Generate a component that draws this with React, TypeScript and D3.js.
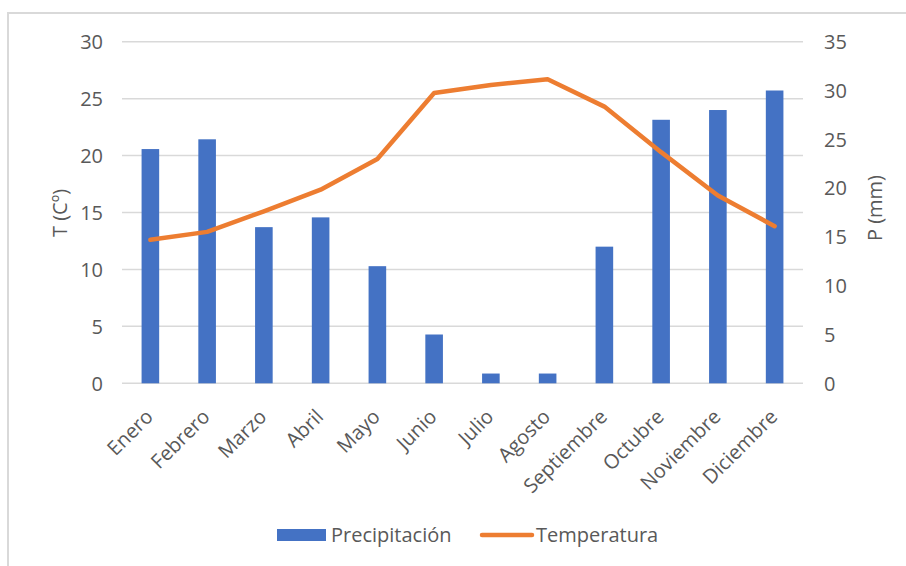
import React from "react";
import * as d3 from "d3";

const months = ["Enero","Febrero","Marzo","Abril","Mayo","Junio","Julio","Agosto","Septiembre","Octubre","Noviembre","Diciembre"];
const precipitation = [24, 25, 16, 17, 12, 5, 1, 1, 14, 27, 28, 30];
const temperature = [12.6, 13.3, 15.1, 17.0, 19.7, 25.5, 26.2, 26.7, 24.3, 20.3, 16.5, 13.8];
const leftTicks = [0, 5, 10, 15, 20, 25, 30];
const rightTicks = [0, 5, 10, 15, 20, 25, 30, 35];

const W = 906, H = 566;
const plotL = 122, plotR = 803, plotT = 41.7, plotB = 383.3;
const FONT = "'Open Sans', 'Noto Sans', sans-serif";
const TXT = "#595959";

export default function App() {
  const x = d3.scaleBand<string>().domain(months).range([plotL, plotR]).paddingInner(0.69).paddingOuter(0.345);
  const band = d3.scaleBand<string>().domain(months).range([plotL, plotR]);
  const yL = d3.scaleLinear().domain([0, 30]).range([plotB, plotT]);
  const yR = d3.scaleLinear().domain([0, 35]).range([plotB, plotT]);
  const line = d3.line<number>()
    .x((_, i) => (band(months[i]) as number) + band.bandwidth() / 2)
    .y((d) => yL(d));

  return (
    <svg width={W} height={H} style={{ position: "absolute", left: 0, top: 0, background: "#fff" }} fontFamily={FONT}>
      <path d={`M8,${H} L8,13 L${W},13`} fill="none" stroke="#d9d9d9" strokeWidth={2} />
      {leftTicks.map((t) => (
        <line key={"g" + t} x1={plotL} x2={plotR} y1={yL(t)} y2={yL(t)} stroke="#d9d9d9" strokeWidth={1.5} />
      ))}
      {leftTicks.map((t) => (
        <text key={"l" + t} x={103} y={yL(t)} dy="0.36em" textAnchor="end" fontSize={20} fill={TXT}>{t}</text>
      ))}
      {rightTicks.map((t) => (
        <text key={"r" + t} x={824} y={yR(t)} dy="0.36em" textAnchor="start" fontSize={20} fill={TXT}>{t}</text>
      ))}
      <text transform={`translate(67,213) rotate(-90)`} textAnchor="middle" fontSize={20} fill={TXT}>T (Cº)</text>
      <text transform={`translate(882,208) rotate(-90)`} textAnchor="middle" fontSize={20} fill={TXT}>P (mm)</text>
      {months.map((m, i) => (
        <rect key={m} x={x(m)} y={yR(precipitation[i])} width={x.bandwidth()} height={plotB - yR(precipitation[i])} fill="#4472c4" />
      ))}
      <path d={line(temperature) || ""} fill="none" stroke="#ed7d31" strokeWidth={4.5} strokeLinejoin="round" strokeLinecap="round" />
      {months.map((m) => {
        const cx = (band(m) as number) + band.bandwidth() / 2;
        return (
          <text key={"c" + m} transform={`translate(${cx + 4},${418}) rotate(-45)`} textAnchor="end" fontSize={20} fill={TXT}>{m}</text>
        );
      })}
      <rect x={277} y={529} width={49} height={12} fill="#4472c4" />
      <text x={331} y={542} fontSize={20} fill={TXT}>Precipitación</text>
      <line x1={482} x2={532} y1={535} y2={535} stroke="#ed7d31" strokeWidth={4.5} strokeLinecap="round" />
      <text x={536} y={542} fontSize={20} fill={TXT}>Temperatura</text>
    </svg>
  );
}
